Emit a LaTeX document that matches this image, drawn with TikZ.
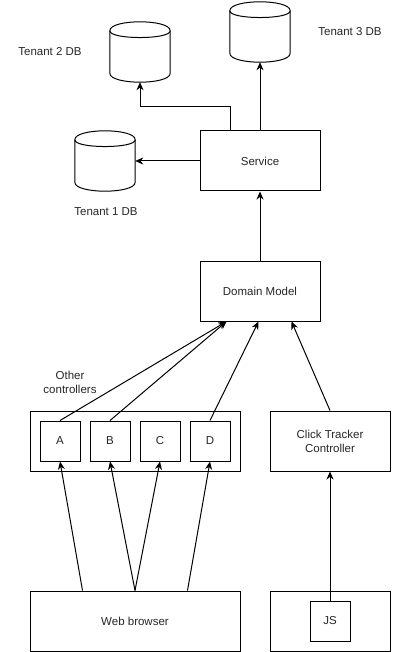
\documentclass[tikz,border=0pt]{standalone}
\usepackage{fontspec}
\setmainfont{Liberation Sans}
\usetikzlibrary{arrows.meta}
\newcommand\mycyl[1]{%
  \draw[line width=1pt] ([yshift=-9pt]#1.north west) .. controls ([yshift=3pt]#1.north west) and ([yshift=3pt]#1.north east) .. ([yshift=-9pt]#1.north east)
    -- ([yshift=9pt]#1.south east) .. controls ([yshift=-3pt]#1.south east) and ([yshift=-3pt]#1.south west) .. ([yshift=9pt]#1.south west) -- cycle;
  \draw[line width=1pt] ([yshift=-9pt]#1.north west) .. controls ([yshift=-18pt]#1.north west) and ([yshift=-18pt]#1.north east) .. ([yshift=-9pt]#1.north east);
}
\begin{document}
\begin{tikzpicture}[x=1pt,y=-1pt,
  every node/.style={font=\fontsize{11.5}{14}\selectfont, text=black!85},
  box/.style={draw, line width=1pt, minimum width=120pt, minimum height=60pt, inner sep=0pt, align=center},
  wide/.style={box, minimum width=210pt},
  small/.style={box, minimum width=40pt, minimum height=40pt},
  cylph/.style={minimum width=60pt, minimum height=60pt, inner sep=0pt},
  lbl/.style={align=center, inner sep=0pt},
  arr/.style={line width=1pt, -{Stealth[length=8pt,width=7pt,inset=2.5pt]}}]
\useasboundingbox (0,0) rectangle (401,652);

% cylinders
\node[cylph] (t3) at (260,32) {};
\node[cylph] (t2) at (140,52) {};
\node[cylph] (t1) at (105,161) {};
\mycyl{t3}
\mycyl{t2}
\mycyl{t1}
\node[lbl] (l3) at (350,32) {Tenant 3 DB};
\node[lbl] (l2) at (50,52) {Tenant 2 DB};
\node[lbl] (l1) at (106,212) {Tenant 1 DB};

% boxes
\node[box] (svc) at (260,161) {Service};
\node[box] (dm) at (260,291) {Domain Model};
\node[wide] (ctrl) at (135,441) {};
\node[small] (a) at (60,441) {A};
\node[small] (b) at (110,441) {B};
\node[small] (c) at (160,441) {C};
\node[small] (d) at (210,441) {D};
\node[box] (ct) at (330,441) {Click Tracker\\Controller};
\node[wide] (wb) at (135,621) {Web browser};
\node[box] (jsbox) at (330,621) {};
\node[small] (js) at (330,621) {JS};
\node[lbl] (oc) at (70,382) {Other\\controllers};

% connectors
\draw[arr] (svc.north) -- (t3.south);
\draw[arr] ([xshift=-30pt]svc.north) |- (140,107) -- (t2.south);
\draw[arr] (svc.west) -- (t1.east);
\draw[arr] (dm.north) -- (svc.south);

\coordinate (dmab) at ([xshift=27pt]dm.south west);
\coordinate (dmd) at ([xshift=59pt]dm.south west);
\coordinate (dmct) at ([xshift=92pt]dm.south west);
\draw[arr] (a.north) -- (dmab);
\draw[arr] (b.north) -- (dmab);
\draw[arr] (d.north) -- (dmd);
\draw[arr] (ct.north) -- (dmct);

\coordinate (wb1) at ([xshift=53pt]wb.north west);
\coordinate (wb3) at ([xshift=158pt]wb.north west);
\draw[arr] (wb1) -- (a.south);
\draw[arr] (wb.north) -- (b.south);
\draw[arr] (wb.north) -- (c.south);
\draw[arr] (wb3) -- (d.south);
\draw[arr] (js.north) -- (ct.south);
\end{tikzpicture}
\end{document}
